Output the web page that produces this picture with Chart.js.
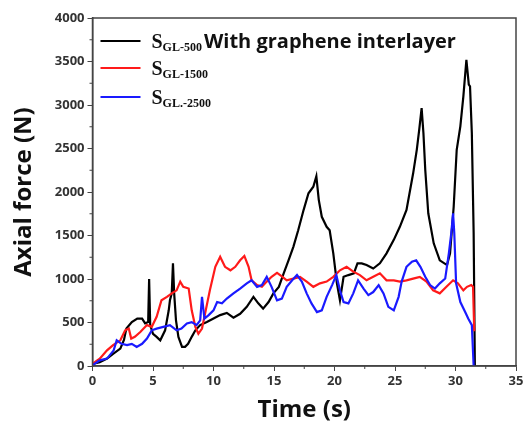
<!DOCTYPE html>
<html>
<head>
<meta charset="utf-8">
<script src="https://cdn.jsdelivr.net/npm/chart.js@4/dist/chart.umd.min.js"></script>
<style>
  html,body{margin:0;padding:0;background:#fff;}
  #wrap{position:relative;width:527px;height:430px;}
</style>
</head>
<body>
<div id="wrap"><canvas id="chartForce" width="527" height="430"></canvas></div>
<script>
// axial force vs time
const blackT = [0,0.6,1.2,1.7,2.3,2.6,2.8,3.25,3.7,4.1,4.35,4.6,4.68,4.77,5.0,5.3,5.6,6.0,6.3,6.4,6.55,6.65,6.75,6.9,7.1,7.4,7.65,7.9,8.2,8.5,8.9,9.45,10.0,10.55,11.1,11.65,12.2,12.75,13.3,13.7,14.1,14.55,14.95,15.4,15.8,16.2,16.6,17.0,17.45,17.85,18.25,18.5,18.7,18.95,19.35,19.6,19.9,20.2,20.45,20.75,21.15,21.6,21.9,22.25,22.65,23.2,23.75,24.3,24.9,25.4,25.95,26.5,26.8,27.0,27.2,27.35,27.5,27.75,28.2,28.7,29.3,29.55,29.85,30.1,30.4,30.65,30.9,31.1,31.2,31.35,31.5,31.6];
const blackF = [25,45,85,140,200,300,430,505,545,545,490,505,1000,470,370,335,295,410,640,755,835,1180,835,525,335,220,220,255,335,410,470,505,545,585,610,555,600,680,795,720,660,735,835,910,1065,1215,1370,1560,1795,1985,2060,2180,1910,1715,1600,1560,1295,950,755,1025,1045,1065,1180,1180,1160,1120,1180,1295,1450,1600,1795,2215,2485,2715,2965,2675,2255,1755,1410,1215,1160,1295,1830,2485,2755,3100,3520,3235,3215,2675,1525,0];

const redT = [0,0.6,1.2,1.7,2.3,2.7,3.0,3.2,3.5,3.95,4.5,4.9,5.3,5.7,6.15,6.55,6.95,7.25,7.5,7.95,8.2,8.5,8.75,9.05,9.3,9.7,10.15,10.55,10.95,11.4,11.8,12.2,12.55,12.9,13.15,13.6,14.0,14.4,14.8,15.25,15.65,16.05,16.6,17.15,17.7,18.25,18.8,19.35,19.9,20.45,21.0,21.55,22.1,22.65,23.2,23.75,24.3,24.9,25.4,25.95,26.5,27.05,27.6,28.15,28.7,29.25,29.8,30.2,30.65,30.95,31.3,31.45,31.55];
const redF = [25,85,180,240,295,410,430,315,335,390,470,450,565,755,795,835,870,970,910,890,640,450,370,430,600,870,1140,1255,1140,1100,1140,1215,1265,1140,985,930,910,970,1025,1070,1030,985,1005,1025,970,910,950,970,1025,1100,1140,1085,1045,985,1025,1065,985,985,970,985,1005,1025,970,870,835,910,985,950,870,910,930,910,400];

const blueT = [0,0.6,1.2,1.75,2.0,2.4,2.85,3.25,3.65,4.1,4.5,4.9,5.3,5.85,6.4,6.95,7.35,7.8,8.2,8.6,8.9,9.05,9.25,9.6,10.0,10.3,10.7,11.1,11.65,12.2,12.75,13.15,13.6,14.0,14.4,14.8,15.25,15.65,16.05,16.5,16.9,17.3,17.7,18.1,18.55,18.95,19.35,19.8,20.15,20.45,20.75,21.15,21.55,21.95,22.4,22.8,23.2,23.65,24.05,24.45,24.9,25.3,25.55,25.95,26.4,26.75,27.1,27.5,27.9,28.3,28.7,29.15,29.45,29.65,29.8,29.9,30.05,30.4,30.8,31.05,31.35,31.5];
const blueF = [10,65,85,180,295,255,240,255,220,255,315,410,430,450,470,410,430,490,505,470,525,795,545,585,640,735,720,775,835,890,950,985,910,930,1025,910,755,775,910,985,1045,970,835,720,620,640,795,930,1045,870,735,720,835,985,890,815,850,930,835,680,640,795,970,1140,1200,1215,1140,1025,930,890,950,1005,1295,1525,1755,1525,950,735,620,545,470,0];

const seriesNames = ["GL-500","GL-1500","GL.-2500"];
const seriesColors = ["#000000","#ff1a1a","#1a1aff"];
const xTicksMinor = [2.5,7.5,12.5,17.5,22.5,27.5,32.5];
const yTicksMinor = [250,750,1250,1750,2250,2750,3250,3750];

function pts(t,f){ return t.map((v,i)=>({x:v,y:f[i]})); }

const tickFont = {family:"'Open Sans', Arial, sans-serif", size:13, weight:"bold"};
const titleFont = {family:"'Open Sans', Arial, sans-serif", size:24, weight:"bold"};

// frame on top/right + minor ticks
const framePlugin = {
  id:"frame",
  afterDraw(chart){
    const {ctx, chartArea:a, scales} = chart;
    ctx.save();
    ctx.strokeStyle = "#444"; ctx.lineWidth = 1.5;
    ctx.strokeRect(a.left, a.top, a.right-a.left, a.bottom-a.top);
    ctx.lineWidth = 1;
    ctx.beginPath();
    xTicksMinor.forEach(v=>{ const px = scales.x.getPixelForValue(v); ctx.moveTo(px,a.bottom); ctx.lineTo(px,a.bottom+3); });
    yTicksMinor.forEach(v=>{ const py = scales.y.getPixelForValue(v); ctx.moveTo(a.left,py); ctx.lineTo(a.left-3,py); });
    ctx.stroke();
    ctx.restore();
  }
};

// legend with subscripts
const legendPlugin = {
  id:"subLegend",
  afterDraw(chart){
    const {ctx, chartArea:a} = chart;
    const rows = [a.top+23, a.top+50, a.top+79];
    ctx.save();
    rows.forEach((y,i)=>{
      ctx.strokeStyle = seriesColors[i]; ctx.lineWidth = 2.2;
      ctx.beginPath(); ctx.moveTo(a.left+8,y); ctx.lineTo(a.left+48,y); ctx.stroke();
      ctx.fillStyle = "#111"; ctx.textBaseline = "alphabetic";
      ctx.font = "bold 20px 'Liberation Serif', 'Times New Roman', serif";
      let x = a.left+59;
      ctx.fillText("S", x, y+7);
      x += ctx.measureText("S").width;
      ctx.font = "bold 12px 'Liberation Serif', 'Times New Roman', serif";
      ctx.fillText(seriesNames[i], x, y+10);
      x += ctx.measureText(seriesNames[i]).width;
      if(i===0){
        ctx.font = "bold 20px 'Open Sans', Arial, sans-serif";
        ctx.fillText("With graphene interlayer", x+2, y+7);
      }
    });
    ctx.restore();
  }
};

const data = [pts(blackT,blackF), pts(redT,redF), pts(blueT,blueF)];

new Chart(document.getElementById("chartForce"), {
  type:"line",
  data:{
    datasets:[2,1,0].map(i=>({
      label:"S"+seriesNames[i], data:data[i], borderColor:seriesColors[i],
      borderWidth:2.2, pointRadius:0, tension:0, fill:false
    }))
  },
  options:{
    responsive:false, animation:false,
    layout:{padding:{top:18,right:11,left:0,bottom:0}},
    plugins:{legend:{display:false}, tooltip:{enabled:false}},
    scales:{
      x:{
        type:"linear", min:0, max:35,
        ticks:{stepSize:5, color:"#333", font:tickFont, padding:2, maxRotation:0, callback:v=>String(v)},
        grid:{drawOnChartArea:false, tickLength:5, tickColor:"#444"},
        border:{color:"#444", width:1.5},
        title:{display:true, text:"Time (s)", color:"#111", font:titleFont, padding:{top:0,bottom:5}},
        afterFit(s){ s.height = 64; }
      },
      y:{
        min:0, max:4000,
        ticks:{stepSize:500, color:"#333", font:tickFont, padding:3, callback:v=>String(v)},
        grid:{drawOnChartArea:false, tickLength:5, tickColor:"#444"},
        border:{color:"#444", width:1.5},
        title:{display:true, text:"Axial force (N)", color:"#111", font:titleFont, padding:{top:10,bottom:0}},
        afterFit(s){ s.width = 92.5; }
      }
    }
  },
  plugins:[framePlugin, legendPlugin]
});
</script>
</body>
</html>
